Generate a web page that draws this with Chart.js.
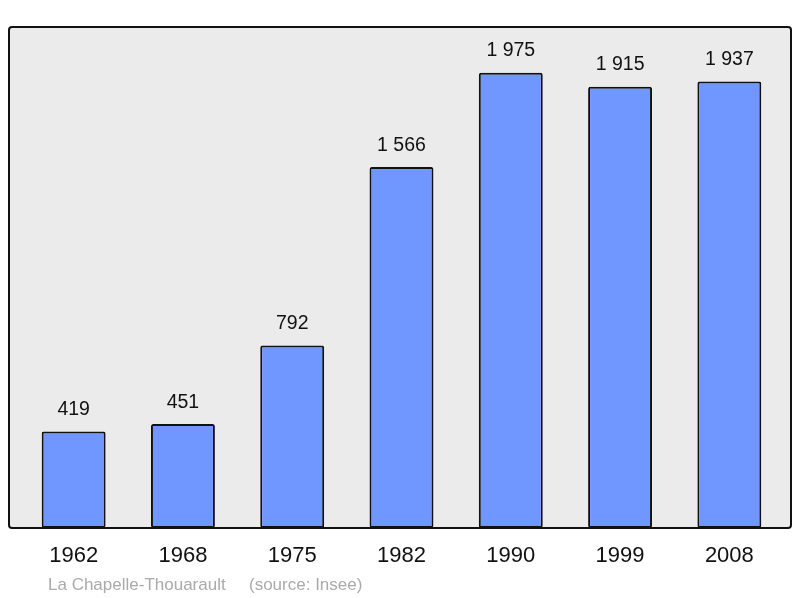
<!DOCTYPE html>
<html>
<head>
<meta charset="utf-8">
<script src="https://cdn.jsdelivr.net/npm/chart.js@4"></script>
<style>
  html, body { margin: 0; padding: 0; background: #fff; }
  #wrap { width: 800px; height: 598px; }
</style>
</head>
<body>
<div id="wrap"><canvas id="grafica" width="800" height="598"></canvas></div>
<script>
const annees = ["1962", "1968", "1975", "1982", "1990", "1999", "2008"];
const population = [419, 451, 792, 1566, 1975, 1915, 1937];
const commune = "La Chapelle-Thouarault";
const source = "(source: Insee)";

function formatNombre(n) {
    return String(n).replace(/\B(?=(\d{3})+(?!\d))/g, " ");
}

// fond gris + cadre arrondi autour de la zone du graphique
function tracerCadre(ctx, a) {
    ctx.beginPath();
    ctx.roundRect(a.left - 10, a.top, a.right - a.left + 17, a.bottom - a.top, 3);
}

const cadre = {
    id: "cadre",
    beforeDraw(chart) {
        const { ctx, chartArea: a } = chart;
        ctx.save();
        tracerCadre(ctx, a);
        ctx.fillStyle = "#ebebeb";
        ctx.fill();
        ctx.restore();
    },
    afterDatasetsDraw(chart) {
        const { ctx, chartArea: a } = chart;
        ctx.save();
        tracerCadre(ctx, a);
        ctx.lineWidth = 2;
        ctx.strokeStyle = "#111";
        ctx.stroke();

        // valeurs au-dessus des barres
        const meta = chart.getDatasetMeta(0);
        ctx.font = "19.5px 'Liberation Sans', Arial, sans-serif";
        ctx.fillStyle = "#111";
        ctx.textAlign = "center";
        ctx.textBaseline = "bottom";
        meta.data.forEach((bar, i) => {
            ctx.fillText(formatNombre(population[i]), bar.x, bar.y - 12);
        });

        // source
        ctx.font = "17px 'Liberation Sans', Arial, sans-serif";
        ctx.fillStyle = "#aaaaaa";
        ctx.textAlign = "left";
        ctx.textBaseline = "alphabetic";
        ctx.fillText(commune, 48, 590);
        ctx.fillText(source, 249, 590);
        ctx.restore();
    }
};

new Chart(document.getElementById("grafica"), {
    type: "bar",
    data: {
        labels: annees,
        datasets: [{
            data: population,
            backgroundColor: "#7097ff",
            borderColor: "#111",
            borderWidth: 2,
            borderRadius: 2,
            borderSkipped: false,
            categoryPercentage: 1,
            barPercentage: 0.585
        }]
    },
    options: {
        responsive: false,
        animation: false,
        layout: { padding: { top: 27, left: 19, right: 16, bottom: 0 } },
        plugins: {
            legend: { display: false },
            tooltip: { enabled: false }
        },
        scales: {
            x: {
                grid: { display: false, drawTicks: false },
                border: { display: false },
                ticks: {
                    color: "#111",
                    padding: 15,
                    font: { family: "'Liberation Sans', Arial, sans-serif", size: 22 }
                },
                afterFit(scale) { scale.height = 70; }
            },
            y: {
                display: false,
                min: 0,
                max: 2174
            }
        }
    },
    plugins: [cadre]
});
</script>
</body>
</html>
